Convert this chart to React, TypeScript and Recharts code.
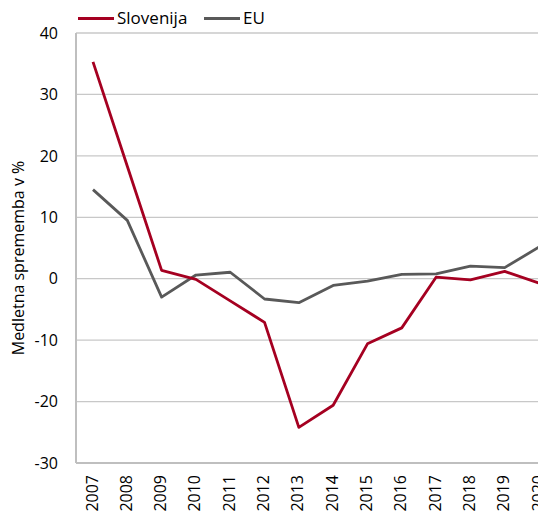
import React from 'react';
import { LineChart, Line, XAxis, YAxis, CartesianGrid, ReferenceLine } from 'recharts';

const years = ['2007', '2008', '2009', '2010', '2011', '2012', '2013', '2014', '2015', '2016', '2017', '2018', '2019', '2020'];
const slovenija = [35.3, 18.3, 1.35, -0.1, -3.6, -7.1, -24.2, -20.6, -10.6, -8.0, 0.25, -0.2, 1.2, -0.7];
const eu = [14.5, 9.5, -3.0, 0.6, 1.05, -3.3, -3.9, -1.1, -0.4, 0.7, 0.8, 2.05, 1.8, 5.15];
const yTicks = [-30, -20, -10, 0, 10, 20, 30, 40];

const RED = '#a50021';
const GREY = '#595959';
const FONT = '"Open Sans", "Noto Sans", sans-serif';

const data = years.map((y, i) => ({ year: y, slovenija: slovenija[i], eu: eu[i] }));

const XTick = (props: any) => {
  const { x, y, payload } = props;
  return (
    <text
      transform={`translate(${x + 4.5}, ${y + 4}) rotate(-90)`}
      textAnchor="end"
      fontSize={16}
      fontFamily={FONT}
      fill="#000"
    >
      {payload.value}
    </text>
  );
};

const LegendItem = ({ color, label, left }: { color: string; label: string; left: number }) => (
  <div style={{ position: 'absolute', left, top: 4, display: 'flex', alignItems: 'center' }}>
    <div style={{ width: 36, height: 3, background: color, marginRight: 3 }} />
    <span style={{ fontSize: 17, fontFamily: FONT, color: '#000', lineHeight: '28px' }}>{label}</span>
  </div>
);

export default function App() {
  return (
    <div style={{ position: 'relative', margin: -8, width: 546, height: 519, overflow: 'hidden', background: '#fff' }}>
      <LineChart width={560} height={519} data={data} margin={{ top: 33, right: 4, left: 0, bottom: 0 }}>
        <CartesianGrid vertical={false} stroke="#c8c8c8" strokeWidth={1.3} />
        <XAxis
          dataKey="year"
          height={56}
          padding={{ left: 17, right: 17 }}
          axisLine={{ stroke: '#bfbfbf', strokeWidth: 2 }}
          tickLine={false}
          interval={0}
          tick={<XTick />}
        />
        <YAxis
          width={76}
          domain={[-30, 40]}
          ticks={yTicks}
          interval={0}
          axisLine={{ stroke: '#bfbfbf', strokeWidth: 2 }}
          tickLine={false}
          tickMargin={12}
          tick={{ fontSize: 16, fontFamily: FONT, fill: '#000' }}
          label={{
            value: 'Medletna sprememba v %',
            angle: -90,
            position: 'insideLeft',
            offset: 18,
            dy: 10,
            style: { fontSize: 16, fontFamily: FONT, fill: '#000', textAnchor: 'middle' },
          }}
        />
        <ReferenceLine y={-30} stroke="#bfbfbf" strokeWidth={2} />
        <Line dataKey="eu" stroke={GREY} strokeWidth={2.8} dot={false} isAnimationActive={false} strokeLinejoin="round" />
        <Line dataKey="slovenija" stroke={RED} strokeWidth={2.8} dot={false} isAnimationActive={false} strokeLinejoin="round" />
      </LineChart>
      <LegendItem color={RED} label="Slovenija" left={78} />
      <LegendItem color={GREY} label="EU" left={204} />
    </div>
  );
}
